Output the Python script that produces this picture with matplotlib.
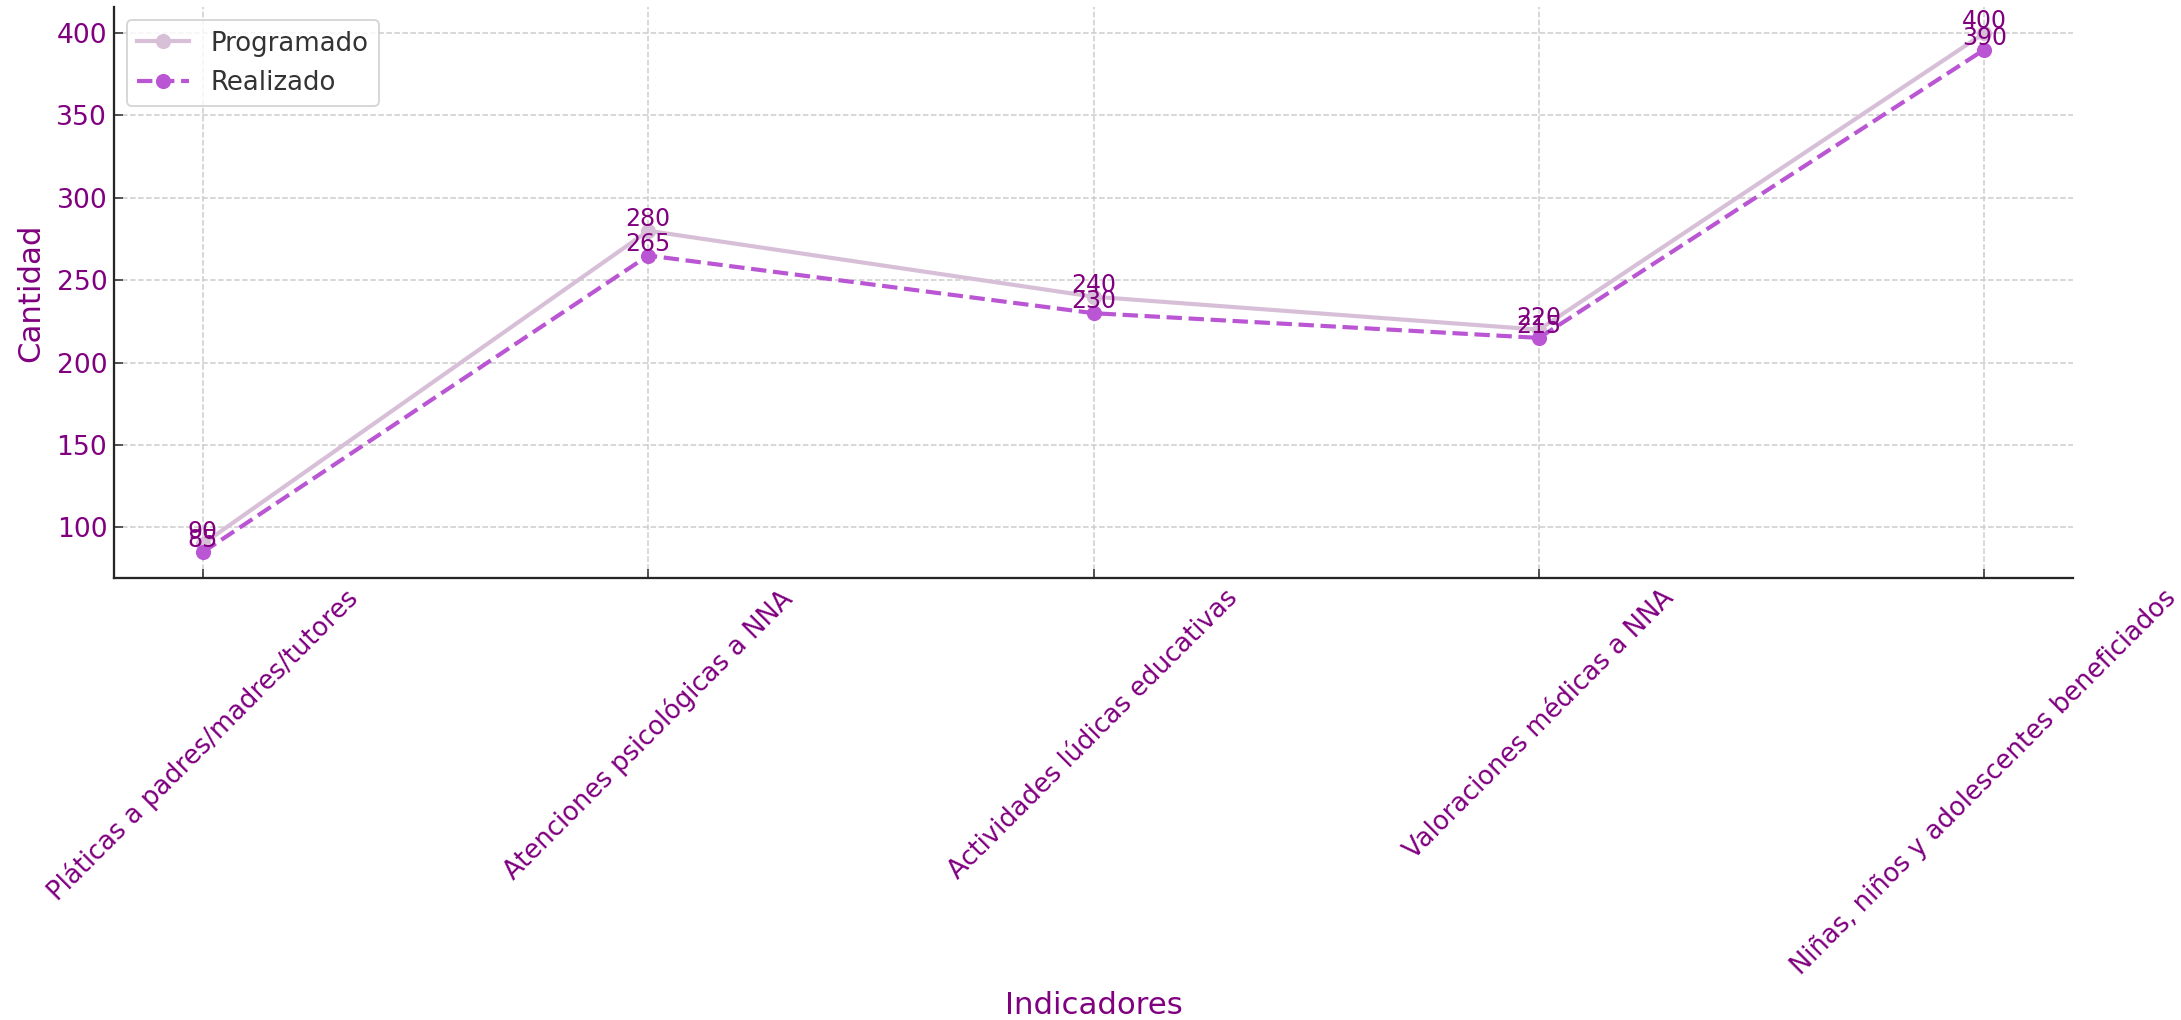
import matplotlib.pyplot as plt

# Datos del gráfico
indicadores = [
    "Pláticas a padres/madres/tutores",
    "Atenciones psicológicas a NNA",
    "Actividades lúdicas educativas",
    "Valoraciones médicas a NNA",
    "Niñas, niños y adolescentes beneficiados",
]
programado = [90, 280, 240, 220, 400]
realizado = [85, 265, 230, 215, 390]

texto_color = "purple"

fig, ax = plt.subplots(figsize=(16.04, 7.5), dpi=136)
fig.subplots_adjust(left=0.0522, right=0.9505, top=0.993, bottom=0.4333)

x = range(len(indicadores))
ax.plot(x, programado, color="thistle", linestyle="-", marker="o",
        linewidth=2.2, markersize=7, label="Programado")
ax.plot(x, realizado, color="mediumorchid", linestyle="--", marker="o",
        linewidth=2.2, markersize=7, label="Realizado")

# Etiquetas de valores (se solapan como en el original)
for i, v in enumerate(programado):
    ax.text(i, v, str(v), ha="center", va="bottom", fontsize=12.5, color=texto_color)
for i, v in enumerate(realizado):
    ax.text(i, v, str(v), ha="center", va="bottom", fontsize=12.5, color=texto_color)

ax.set_xticks(list(x))
ax.set_xticklabels(indicadores, rotation=45, ha="center", fontsize=13.7, color=texto_color)
ax.tick_params(axis="y", labelsize=14, labelcolor=texto_color)
ax.tick_params(direction="in", length=5, color="#262626")

ax.set_xlabel("Indicadores", fontsize=16.3, color=texto_color, labelpad=6)
ax.set_ylabel("Cantidad", fontsize=16.3, color=texto_color, labelpad=6)

ax.grid(True, linestyle="--", color="#cccccc", linewidth=0.8)
ax.spines["top"].set_visible(False)
ax.spines["right"].set_visible(False)
ax.spines["left"].set_color("#262626")
ax.spines["bottom"].set_color("#262626")
ax.spines["left"].set_linewidth(1.2)
ax.spines["bottom"].set_linewidth(1.2)

leg = ax.legend(loc="upper left", fontsize=13.8, frameon=True, edgecolor="#cccccc")
for t in leg.get_texts():
    t.set_color("#333333")

fig.savefig("out.png", dpi=136)
